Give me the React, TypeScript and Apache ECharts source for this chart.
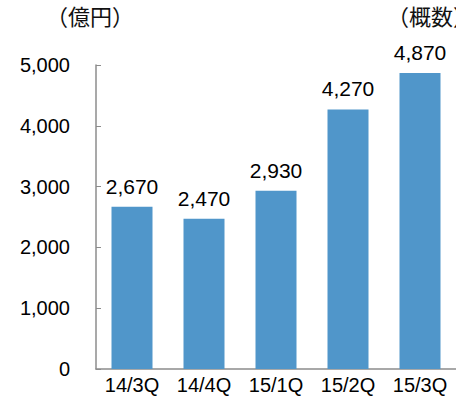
import React, { useEffect, useRef } from "react";
import * as echarts from "echarts";

const categories = ["14/3Q", "14/4Q", "15/1Q", "15/2Q", "15/3Q"];
const values = [2670, 2470, 2930, 4270, 4870];
const unitLabel = "（億円）";
const noteLabel = "（概数）";

const LATIN = '"Liberation Sans", Arial, sans-serif';
const CJK = '"Noto Sans CJK JP", sans-serif';

export default function App() {
  const ref = useRef<HTMLDivElement>(null);
  useEffect(() => {
    document.body.style.margin = "0";
    const chart = echarts.init(ref.current!, null, { renderer: "svg" });
    chart.setOption({
      animation: false,
      grid: { left: 96, top: 65, bottom: 38, width: 363 },
      xAxis: {
        type: "category",
        data: categories,
        axisLine: { lineStyle: { color: "#8c8c8c", width: 1.5 } },
        axisTick: { inside: true, length: 5, lineStyle: { color: "#8c8c8c" } },
        axisLabel: { color: "#000", fontFamily: LATIN, fontSize: 20, margin: 6 },
      },
      yAxis: {
        type: "value",
        min: 0,
        max: 5000,
        interval: 1000,
        axisLine: { show: true, lineStyle: { color: "#8c8c8c", width: 1.5 } },
        axisTick: { show: true, inside: true, length: 5, lineStyle: { color: "#8c8c8c" } },
        splitLine: { show: false },
        axisLabel: {
          color: "#000",
          fontFamily: LATIN,
          fontSize: 20,
          margin: 26,
          formatter: (v: number) => v.toLocaleString("en-US"),
        },
      },
      series: [
        {
          type: "bar",
          data: values,
          barWidth: 41,
          itemStyle: { color: "#5096CA" },
          label: {
            show: true,
            position: "top",
            distance: 10,
            color: "#000",
            fontFamily: LATIN,
            fontSize: 21,
            formatter: (p: any) => Number(p.value).toLocaleString("en-US"),
          },
        },
      ],
      graphic: [
        {
          type: "text",
          left: 46,
          top: 4,
          style: { text: unitLabel, fontFamily: CJK, fontSize: 22, fill: "#111" },
        },
        {
          type: "text",
          left: 387,
          top: 4,
          style: { text: noteLabel, fontFamily: CJK, fontSize: 22, fill: "#111" },
        },
      ],
    });
    return () => chart.dispose();
  }, []);
  return <div ref={ref} style={{ width: 456, height: 407 }} />;
}
